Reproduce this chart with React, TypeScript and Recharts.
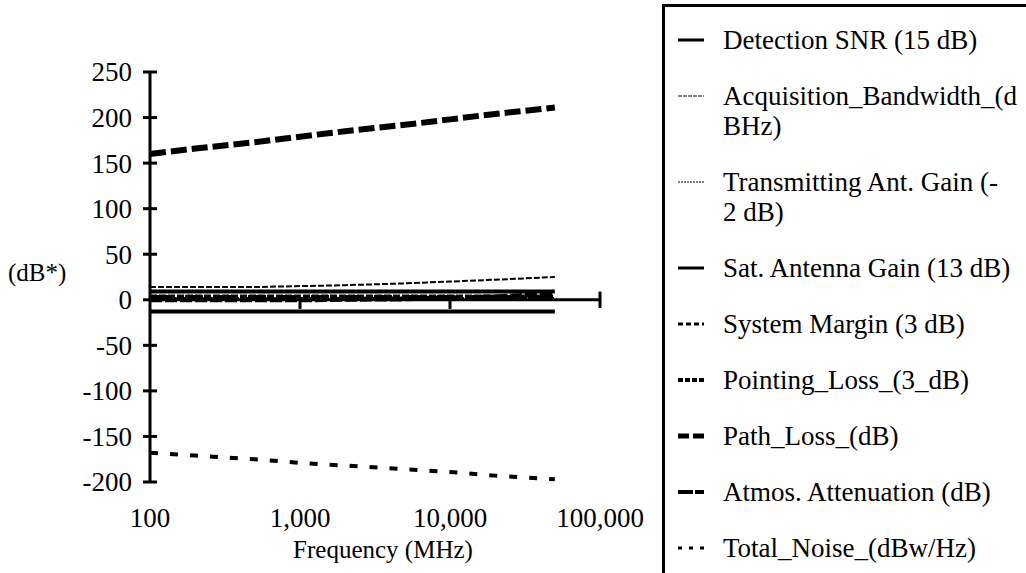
import { LineChart, Line, XAxis, YAxis, ReferenceLine, Label } from "recharts"

// frequency (MHz) sample points
const freqs = [100, 200, 500, 1000, 2000, 5000, 10000, 20000, 50000]

// values (dB*)
const detectionSnr = [9, 9, 9, 9, 9, 9, 9, 9, 9]
const acqBandwidth = [14, 14, 14, 15, 16, 18, 20, 22, 25]
const txAntGain = [2, 2, 2, 2, 2, 2, 2, 2, 2]
const satAntGain = [-13, -13, -13, -13, -13, -13, -13, -13, -13]
const systemMargin = [3, 3, 3, 3, 3, 3, 3, 3, 3]
const pointingLoss = [3, 3, 3, 3, 3, 3, 3, 3, 3]
const pathLoss = [160, 166, 173, 179, 185, 192, 198, 204, 211]
const atmosAtten = [0, 0, 0, 0, 0.5, 1, 2, 3, 7]
const totalNoise = [-168, -171, -175, -179, -182, -186, -189, -193, -197]

const xTicks = [100, 1000, 10000, 100000]
const yTicks = [250, 200, 150, 100, 50, 0, -50, -100, -150, -200]
const zeroAxisTicks = [1000, 10000]

const FONT = "Tinos, 'Liberation Serif', 'Times New Roman', Times, 'DejaVu Serif', serif"

const series = [
    { key: "snr", label: "Detection SNR (15 dB)", values: detectionSnr, width: 4, dash: undefined, legendDash: undefined },
    { key: "bw", label: "Acquisition_Bandwidth_(d\nBHz)", values: acqBandwidth, width: 2, dash: "6 2", legendDash: "4 1" },
    { key: "tx", label: "Transmitting Ant. Gain (-\n2 dB)", values: txAntGain, width: 2, dash: "2 1", legendDash: "2 1" },
    { key: "sat", label: "Sat. Antenna Gain (13 dB)", values: satAntGain, width: 4, dash: undefined, legendDash: undefined },
    { key: "margin", label: "System Margin (3 dB)", values: systemMargin, width: 4, dash: "4 3", legendDash: "5 3" },
    { key: "point", label: "Pointing_Loss_(3_dB)", values: pointingLoss, width: 5, dash: "7 2", legendDash: "5 2" },
    { key: "path", label: "Path_Loss_(dB)", values: pathLoss, width: 6, dash: "16 5", legendDash: "11 4" },
    { key: "atmos", label: "Atmos. Attenuation (dB)", values: atmosAtten, width: 5, dash: "12 3", legendDash: "15 2" },
    { key: "noise", label: "Total_Noise_(dBw/Hz)", values: totalNoise, width: 4, dash: "8 12", legendDash: "4 7" },
]

const data = freqs.map((f, i) => {
    const row: any = { f }
    series.forEach((s) => {
        row[s.key] = s.values[i]
    })
    return row
})

const YTick = ({ x, y, payload }: any) => (
    <g>
        <line x1={x - 7} x2={x + 7} y1={y} y2={y} stroke="#000" strokeWidth={3} />
        <text x={x - 18} y={y} dy="0.35em" textAnchor="end" fontSize={27} fontFamily={FONT} fill="#000">
            {payload.value}
        </text>
    </g>
)

export default function App() {
    return (
        <div
            style={{
                position: "fixed",
                left: 0,
                top: 0,
                width: 1026,
                height: 573,
                overflow: "hidden",
                background: "#fff",
                fontFamily: FONT,
            }}
        >
            <LineChart
                width={1026}
                height={573}
                data={data}
                margin={{ top: 72, right: 426, bottom: 11, left: 0 }}
            >
                <XAxis
                    dataKey="f"
                    type="number"
                    scale="log"
                    domain={[100, 100000]}
                    ticks={xTicks}
                    interval={0}
                    axisLine={false}
                    tickLine={false}
                    tickSize={0}
                    tickMargin={26}
                    height={80}
                    tickFormatter={(v: number) => v.toLocaleString("en-US")}
                    tick={{ fill: "#000", fontSize: 27, fontFamily: FONT }}
                >
                    <Label
                        value="Frequency (MHz)"
                        position="insideBottom"
                        offset={4}
                        dx={8}
                        fill="#000"
                        fontSize={25}
                        fontFamily={FONT}
                    />
                </XAxis>
                <YAxis
                    type="number"
                    domain={[-200, 250]}
                    ticks={yTicks}
                    interval={0}
                    width={150}
                    axisLine={{ stroke: "#000", strokeWidth: 3 }}
                    tickLine={false}
                    tickSize={0}
                    tickMargin={0}
                    tick={<YTick />}
                >
                    <Label
                        value="(dB*)"
                        position="insideLeft"
                        offset={8}
                        dy={-5}
                        fill="#000"
                        fontSize={25}
                        fontFamily={FONT}
                    />
                </YAxis>

                {series.map((s) => (
                    <Line
                        key={s.key}
                        dataKey={s.key}
                        name={s.label}
                        type="linear"
                        stroke="#000"
                        strokeWidth={s.width}
                        strokeDasharray={s.dash}
                        dot={false}
                        activeDot={false}
                        isAnimationActive={false}
                    />
                ))}

                {/* horizontal axis drawn through zero */}
                <ReferenceLine y={0} stroke="#000" strokeWidth={3} />
                {zeroAxisTicks.map((t) => (
                    <ReferenceLine
                        key={t}
                        segment={[{ x: t, y: 0 }, { x: t, y: -10 }]}
                        stroke="#000"
                        strokeWidth={3}
                    />
                ))}
                <ReferenceLine
                    segment={[{ x: 100000, y: 9 }, { x: 100000, y: -9 }]}
                    stroke="#000"
                    strokeWidth={3}
                />
            </LineChart>

            {/* LEGEND */}
            <div
                style={{
                    position: "absolute",
                    left: 662,
                    top: 4,
                    width: 400,
                    height: 620,
                    border: "3px solid #000",
                    paddingTop: 18,
                    paddingLeft: 13,
                    boxSizing: "border-box",
                }}
            >
                {series.map((s) => (
                    <div
                        key={s.key}
                        style={{ display: "flex", alignItems: "flex-start", marginBottom: 26 }}
                    >
                        <svg width={26} height={30} style={{ marginRight: 19, flexShrink: 0 }}>
                            <line
                                x1={0}
                                x2={26}
                                y1={15}
                                y2={15}
                                stroke="#000"
                                strokeWidth={s.width - 1}
                                strokeDasharray={s.legendDash}
                            />
                        </svg>
                        <div style={{ fontSize: 27, lineHeight: "30px", whiteSpace: "pre", color: "#000" }}>
                            {s.label}
                        </div>
                    </div>
                ))}
            </div>
        </div>
    )
}
